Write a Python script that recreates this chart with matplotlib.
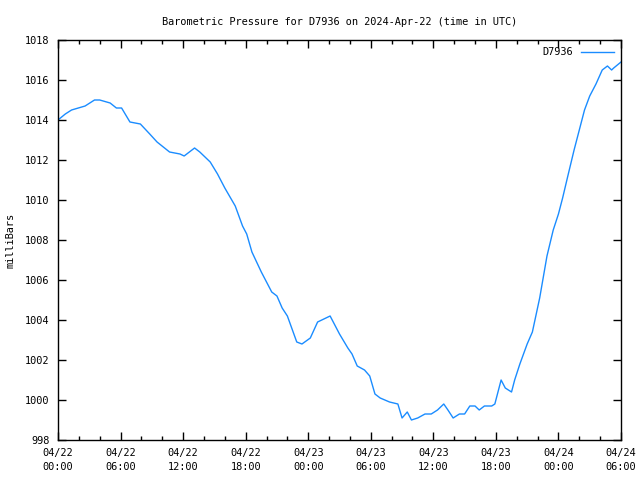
import matplotlib
matplotlib.use("Agg")
import matplotlib.pyplot as plt
from matplotlib.ticker import MultipleLocator

# hours since 04/22 00:00 UTC and pressure in mbar
hours = [0.0, 0.7, 1.3, 2.6, 3.5, 4.0, 5.0, 5.6, 6.1, 6.9, 7.9, 8.8, 9.5,
         10.7, 11.7, 12.1, 13.1, 13.6, 14.6, 15.3, 16.0, 17.0, 17.7, 18.1,
         18.6, 19.5, 20.5, 21.0, 21.5, 22.0, 22.9, 23.4, 24.2, 24.9, 26.1,
         27.0, 27.8, 28.2, 28.7, 29.4, 29.9, 30.4, 30.9, 31.8, 32.6, 33.0,
         33.5, 33.9, 34.5, 35.2, 35.8, 36.4, 37.0, 37.4, 37.9, 38.5, 39.0,
         39.5, 40.0, 40.4, 40.9, 41.6, 41.9, 42.1, 42.5, 42.9, 43.5, 43.8,
         44.3, 45.0, 45.5, 46.2, 46.9, 47.5, 48.0, 48.4, 48.9, 49.5, 50.0,
         50.5, 51.0, 51.6, 52.2, 52.7, 53.1, 53.3, 54.0]
pressure = [1014.0, 1014.3, 1014.5, 1014.7, 1015.0, 1015.0, 1014.85, 1014.6,
            1014.6, 1013.9, 1013.8, 1013.3, 1012.9, 1012.4, 1012.3, 1012.2,
            1012.6, 1012.4, 1011.9, 1011.3, 1010.6, 1009.7, 1008.7, 1008.3,
            1007.4, 1006.4, 1005.4, 1005.2, 1004.6, 1004.2, 1002.9, 1002.8,
            1003.1, 1003.9, 1004.2, 1003.3, 1002.6, 1002.3, 1001.7, 1001.5,
            1001.2, 1000.3, 1000.1, 999.9, 999.8, 999.1, 999.4, 999.0,
            999.1, 999.3, 999.3, 999.5, 999.8, 999.5, 999.1, 999.3, 999.3,
            999.7, 999.7, 999.5, 999.7, 999.7, 999.8, 1000.2, 1001.0, 1000.6,
            1000.4, 1001.0, 1001.8, 1002.8, 1003.4, 1005.1, 1007.2, 1008.5,
            1009.3, 1010.1, 1011.2, 1012.5, 1013.5, 1014.5, 1015.2, 1015.8,
            1016.5, 1016.7, 1016.5, 1016.6, 1016.9]

tick_hours = [0, 6, 12, 18, 24, 30, 36, 42, 48, 54]
tick_labels = ["04/22\n00:00", "04/22\n06:00", "04/22\n12:00", "04/22\n18:00",
               "04/23\n00:00", "04/23\n06:00", "04/23\n12:00", "04/23\n18:00",
               "04/24\n00:00", "04/24\n06:00"]

plt.rcParams['font.family'] = 'DejaVu Sans Mono'
plt.rcParams['font.size'] = 7.4

fig = plt.figure(figsize=(6.4, 4.8), dpi=100)
ax = fig.add_axes([58 / 640, 40 / 480, 563 / 640, 400 / 480])

ax.plot(hours, pressure, color='#1a8cff', lw=1, label='D7936')

ax.set_xlim(0, 54)
ax.set_ylim(998, 1018)
ax.set_xticks(tick_hours)
ax.set_xticklabels(tick_labels, linespacing=1.5)
ax.xaxis.set_minor_locator(MultipleLocator(2))
ax.yaxis.set_major_locator(MultipleLocator(2))
ax.tick_params(which='both', direction='in', top=True, right=True, width=1)
ax.tick_params(which='major', length=6, pad=6)
ax.tick_params(which='minor', length=3)
for s in ax.spines.values():
    s.set_linewidth(1)

ax.set_ylabel('milliBars', labelpad=7)
ax.set_title('Barometric Pressure for D7936 on 2024-Apr-22 (time in UTC)',
             fontsize=7.4, pad=11)

leg = ax.legend(loc='upper right', frameon=False, markerfirst=False,
                handlelength=3.2, borderaxespad=0.3)

fig.savefig('out.png', dpi=100)
